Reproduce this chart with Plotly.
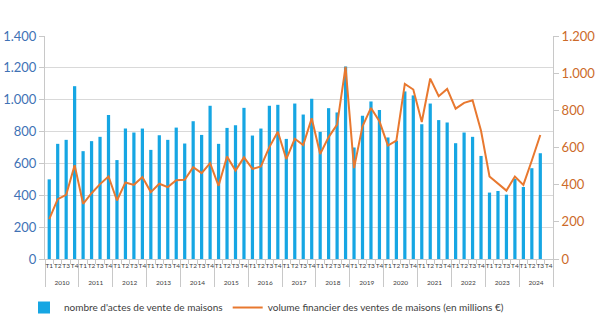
import plotly.graph_objects as go

years = [str(y) for y in range(2010, 2025)]
quarters = ["T1", "T2", "T3", "T4"]

ventes = [500, 723, 748, 1085, 677, 740, 767, 904, 621, 819, 794, 819,
          685, 777, 748, 825, 725, 865, 779, 962, 723, 823, 840, 949,
          775, 819, 962, 968, 754, 976, 907, 1006, 798, 947, 920, 1209,
          700, 899, 989, 936, 763, 742, 1052, 1027, 846, 976, 872, 857,
          727, 794, 767, 647, 417, 427, 404, 503, 452, 570, 664, None]

volume = [214, 322, 345, 505, 297, 354, 403, 444, 315, 412, 399, 441,
          360, 405, 387, 424, 426, 494, 462, 516, 394, 552, 476, 547,
          485, 498, 602, 685, 538, 647, 613, 757, 565, 656, 723, 1034,
          489, 714, 813, 741, 610, 637, 942, 912, 737, 971, 876, 915,
          809, 840, 854, 690, 444, 406, 368, 444, 399, 530, 667, None]

# year labels pushed one line down to sit below the quarter row
x_year = ["<br>" + y for y in years for _ in quarters]
x_q = [q for _ in years for q in quarters]

FONT = "Lato"
fig = go.Figure()
fig.add_trace(go.Bar(
    x=[x_year, x_q], y=ventes,
    name="nombre d'actes de vente de maisons",
    marker=dict(color="#16a6e3", line=dict(width=0)),
    yaxis="y",
))
fig.add_trace(go.Scatter(
    x=[x_year, x_q], y=volume,
    name="volume financier des ventes de maisons (en millions €)",
    mode="lines", line=dict(color="#e8782f", width=2),
    yaxis="y2",
))

fig.update_layout(
    width=600, height=322,
    margin=dict(l=45, r=47, t=36, b=63),
    paper_bgcolor="white", plot_bgcolor="white",
    separators=",.",
    bargap=0.62,
    font=dict(family=FONT, color="#404040"),
    showlegend=True,
    legend=dict(orientation="h", xref="container", x=0.04, xanchor="left",
                yref="container", y=0.045, yanchor="middle",
                font=dict(size=10, color="#404040"),
                itemwidth=30, tracegroupgap=0),
    xaxis=dict(
        type="multicategory",
        automargin=False,
        tickangle=0,
        showline=True, linecolor="#c8c8c8", linewidth=1,
        ticks="outside", tickson="boundaries", ticklen=4, tickcolor="#c8c8c8",
        tickfont=dict(size=6.5, color="#404040", family=FONT),
        showdividers=True, dividercolor="#c8c8c8", dividerwidth=1,
        showgrid=False,
    ),
    yaxis=dict(
        range=[0, 1400], dtick=200, tick0=0,
        automargin=False,
        showgrid=True, gridcolor="#d9d9d9", gridwidth=1,
        showline=True, linecolor="#c8c8c8",
        ticks="outside", ticklen=5, tickcolor="#c8c8c8",
        separatethousands=True,
        tickfont=dict(size=13, color="#3f72b5", family=FONT),
        zeroline=False,
    ),
    yaxis2=dict(
        range=[0, 1200], dtick=200, tick0=0,
        automargin=False,
        overlaying="y", side="right",
        showgrid=False, showline=True, linecolor="#c8c8c8",
        ticks="outside", ticklen=5, tickcolor="#c8c8c8",
        separatethousands=True,
        tickfont=dict(size=13, color="#cc6a2a", family=FONT),
        zeroline=False,
    ),
)

fig.write_html("out.html")
